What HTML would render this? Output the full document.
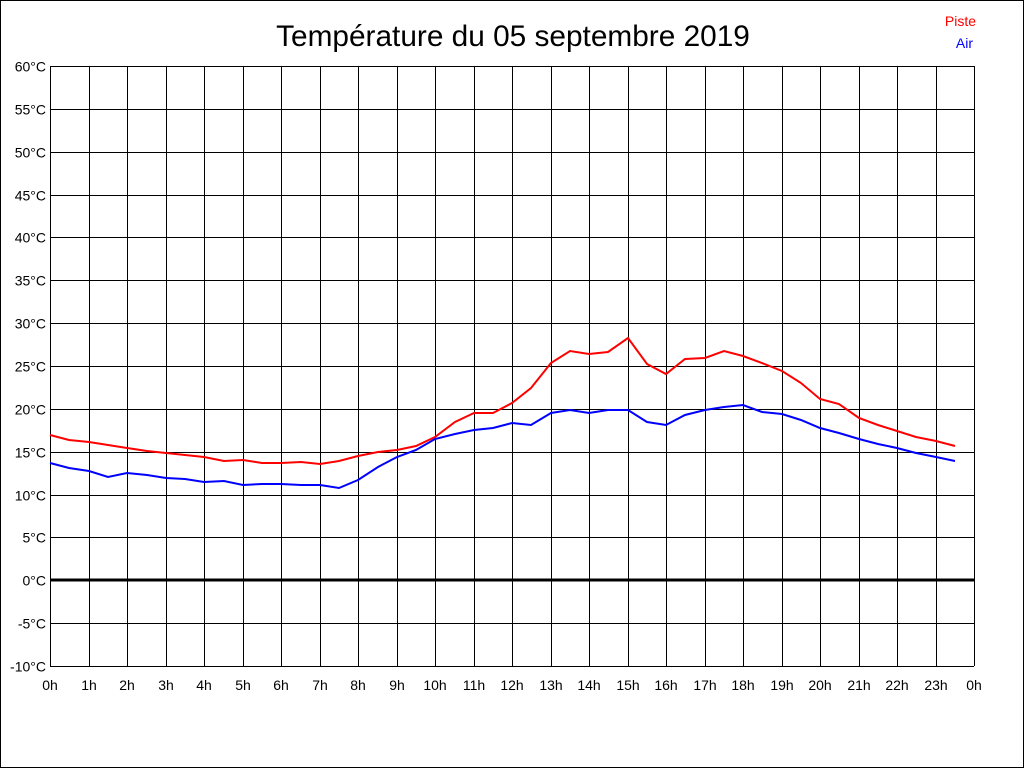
<!DOCTYPE html>
<html><head><meta charset="utf-8"><style>body{margin:0;background:#fff}svg{display:block}</style></head><body>
<svg width="1024" height="768" xmlns="http://www.w3.org/2000/svg" font-family="Liberation Sans, sans-serif">
<rect x="0.5" y="0.5" width="1023" height="767" fill="#fff" stroke="#000"/>
<text x="513" y="46" font-size="29.8" text-anchor="middle">Température du 05 septembre 2019</text>
<text x="976" y="26" font-size="14" fill="#f00" text-anchor="end">Piste</text>
<text x="973" y="48" font-size="14" fill="#00f" text-anchor="end">Air</text>
<g id="grid" stroke="#000" stroke-width="1"></g>
<g id="lbl" font-size="14" fill="#000"></g>
<line x1="50" y1="580" x2="974" y2="580" stroke="#000" stroke-width="3"/>
<polyline fill="none" stroke="#f00" stroke-width="2" points="50,435 69,440 89,442 108,445 127,448 147,451 166,453 185,455 204,457 224,461 243,460 262,463 281,463 301,462 320,464 339,461 358,456 378,452 397,450 416,446 435,437 455,422 474,413 493,413 512,403 531,388 551,363 570,351 589,354 608,352 628,338 647,364 666,374 685,359 705,358 724,351 743,356 762,363 782,371 801,383 820,399 839,404 859,418 878,425 897,431 916,437 936,441 955,446"/>
<polyline fill="none" stroke="#00f" stroke-width="2" points="50,463 69,468 89,471 108,477 127,473 147,475 166,478 185,479 204,482 224,481 243,485 262,484 281,484 301,485 320,485 339,488 358,480 378,467 397,457 416,450 435,439 455,434 474,430 493,428 512,423 531,425 551,413 570,410 589,413 608,410 628,410 647,422 666,425 685,415 705,410 724,407 743,405 762,412 782,414 801,420 820,428 839,433 859,439 878,444 897,448 916,453 936,457 955,461"/>
</svg>
<script>
var g=document.getElementById('grid'),l=document.getElementById('lbl'),ns='http://www.w3.org/2000/svg';
function el(p,t,a,txt){var e=document.createElementNS(ns,t);for(var k in a)e.setAttribute(k,a[k]);if(txt)e.textContent=txt;p.appendChild(e);}
for(var i=0;i<=24;i++){var x=Math.round(50+i*38.5)+0.5;el(g,'line',{x1:x,y1:66,x2:x,y2:666});el(l,'text',{x:Math.round(50+i*38.5),y:690,'text-anchor':'middle'},(i%24)+'h');}
for(var j=0;j<=14;j++){var v=60-5*j,y=Math.round(66+j*600/14)+0.5;el(g,'line',{x1:50,y1:y,x2:974,y2:y});el(l,'text',{x:46,y:y+5,'text-anchor':'end'},v+'°C');}
</script>
</body></html>
